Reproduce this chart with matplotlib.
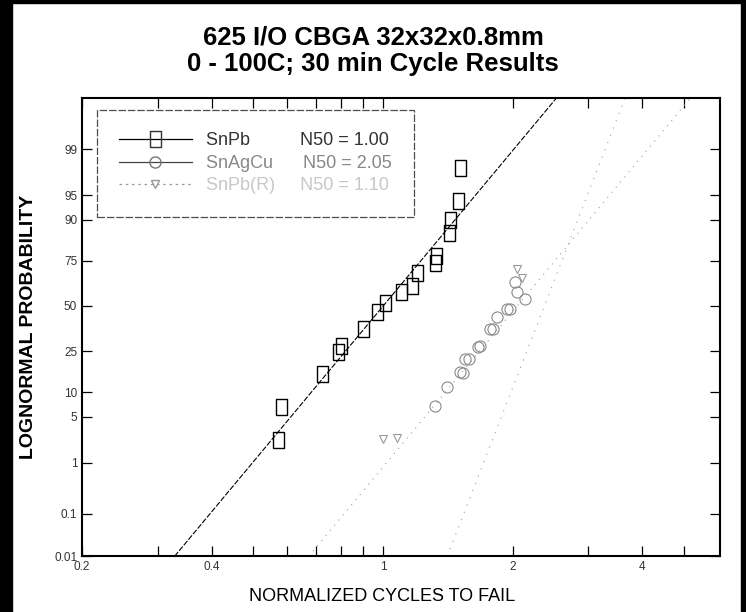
import math
import numpy as np
import matplotlib
matplotlib.use("Agg")
import matplotlib.pyplot as plt
from matplotlib.patches import Rectangle

plt.rcParams['font.family'] = ['Liberation Sans', 'DejaVu Sans']

# data (x = normalized cycles, p = cumulative % failed)
snpb_x = [0.57, 0.58, 0.72, 0.786, 0.80, 0.90, 0.97, 1.01, 1.10, 1.17, 1.20, 1.32, 1.33, 1.42, 1.43, 1.49, 1.51]
snpb_p = [2.3, 6.7, 15.7, 24.8, 27.7, 36.7, 46.5, 52, 58, 61.7, 69, 74, 77, 86, 90, 94, 98]

snagcu_x = [1.32, 1.41, 1.51, 1.53, 1.55, 1.58, 1.66, 1.68, 1.77, 1.80, 1.84, 1.94, 1.97, 2.03, 2.05, 2.14]
snagcu_p = [6.9, 11.5, 16.4, 15.9, 21.5, 21.5, 27, 27.8, 36.7, 36.7, 43.6, 48.4, 48.4, 64, 58.3, 54]

third_x = [1.0, 1.08, 2.05, 2.10]
third_p = [2.4, 2.5, 71, 66]

# fitted lines, end points read where they leave the frame
snpb_fit_x = [0.328, 2.53]
snagcu_fit_x = [0.672, 5.18]
third_fit_x = [1.41, 3.65]
fit_p = [0.01, 99.9]

labels = ["SnPb          N50 = 1.00", "SnAgCu      N50 = 2.05", "SnPb(R)     N50 = 1.10"]

y_ticks = [0.01, 0.1, 1, 5, 10, 25, 50, 75, 90, 95, 99]
y_ticklabels = ["0.01", "0.1", "1", "5", "10", "25", "50", "75", "90", "95", "99"]
x_ticks = [0.2, 0.4, 1, 2, 4]
x_ticklabels = ["0.2", "0.4", "1", "2", "4"]
x_minor = [0.3, 0.5, 0.6, 0.7, 0.8, 0.9, 3, 5]

# normal quantile (Acklam) so the y axis is a probability scale
A = [-3.969683028665376e+01, 2.209460984245205e+02, -2.759285104469687e+02,
     1.383577518672690e+02, -3.066479806614716e+01, 2.506628277459239e+00]
B = [-5.447609879822406e+01, 1.615858368580409e+02, -1.556989798598866e+02,
     6.680131188771972e+01, -1.328068155288572e+01]
C = [-7.784894002430293e-03, -3.223964580411365e-01, -2.400758277161838e+00,
     -2.549732539343734e+00, 4.374664141464968e+00, 2.938163982698783e+00]
D = [7.784695709041462e-03, 3.224671290700398e-01, 2.445134137142996e+00,
     3.754408661907416e+00]


def ppf(pct):
    p = np.clip(np.asarray(pct, dtype=float) / 100.0, 1e-9, 1 - 1e-9)
    out = np.empty_like(p)
    lo = p < 0.02425
    hi = p > 1 - 0.02425
    mid = ~(lo | hi)
    q = p[mid] - 0.5
    r = q * q
    out[mid] = ((((((A[0]*r+A[1])*r+A[2])*r+A[3])*r+A[4])*r+A[5])*q /
                (((((B[0]*r+B[1])*r+B[2])*r+B[3])*r+B[4])*r+1))
    q = np.sqrt(-2 * np.log(p[lo]))
    out[lo] = ((((((C[0]*q+C[1])*q+C[2])*q+C[3])*q+C[4])*q+C[5]) /
               ((((D[0]*q+D[1])*q+D[2])*q+D[3])*q+1))
    q = np.sqrt(-2 * np.log(1 - p[hi]))
    out[hi] = -((((((C[0]*q+C[1])*q+C[2])*q+C[3])*q+C[4])*q+C[5]) /
                ((((D[0]*q+D[1])*q+D[2])*q+D[3])*q+1))
    return out


_erf = np.vectorize(math.erf)


def cdf(z):
    z = np.asarray(z, dtype=float)
    return 50.0 * (1 + _erf(z / math.sqrt(2)))


# tall open box like the scanned squares
box = [(-0.36, -0.5), (0.36, -0.5), (0.36, 0.5), (-0.36, 0.5), (-0.36, -0.5)]

fig = plt.figure(figsize=(7.46, 6.12), dpi=100)
ax = fig.add_axes([0.110, 0.091, 0.855, 0.749])
ax.set_xscale('log')
ax.set_yscale('function', functions=(ppf, cdf))

ax.plot(snpb_fit_x, fit_p, color='black', lw=0.8, ls=(0, (5, 1.5)))
ax.plot(snagcu_fit_x, fit_p, color='#a0a0a0', lw=0.8, ls=(0, (1, 5)))
ax.plot(third_fit_x, fit_p, color='#a0a0a0', lw=0.8, ls=(0, (1, 6)))

ax.plot(snpb_x, snpb_p, ls='none', marker=box, ms=11, mfc='none', mec='black', mew=1.0)
ax.plot(snagcu_x, snagcu_p, ls='none', marker='o', ms=8, mfc='none', mec='#8a8a8a', mew=0.8)
ax.plot(third_x, third_p, ls='none', marker='v', ms=6, mfc='none', mec='#9a9a9a', mew=0.8)

# legend proxies
h1, = ax.plot([], [], color='black', lw=0.9, marker=box, ms=11, mfc='none', mec='#333333')
h2, = ax.plot([], [], color='#444444', lw=0.9, marker='o', ms=8, mfc='none', mec='#777777')
h3, = ax.plot([], [], color='#999999', lw=0.9, ls=(0, (2, 3)), marker='v', ms=6, mfc='none', mec='#999999')
leg = ax.legend([h1, h2, h3], labels, loc='upper left', bbox_to_anchor=(0.023, 0.974),
                fontsize=13, frameon=True, fancybox=False, borderpad=1.25,
                handlelength=4.0, handletextpad=0.8, labelspacing=0.3, borderaxespad=0)
leg.get_frame().set_edgecolor('#222222')
leg.get_frame().set_linewidth(0.9)
leg.get_frame().set_linestyle((0, (6, 1.5)))
for t, c in zip(leg.get_texts(), ['#333333', '#888888', '#c8c8c8']):
    t.set_color(c)

ax.set_xlim(0.2, 6.06)
ax.set_ylim(0.01, 99.9)
ax.set_xticks(x_ticks)
ax.set_xticklabels(x_ticklabels)
ax.set_xticks(x_minor, minor=True)
ax.xaxis.set_minor_formatter(matplotlib.ticker.NullFormatter())
ax.set_yticks(y_ticks)
ax.set_yticklabels(y_ticklabels)
ax.yaxis.set_minor_locator(matplotlib.ticker.NullLocator())
ax.tick_params(axis='both', which='both', direction='in', top=True, right=True,
               labelsize=8.5, width=0.9, labelcolor='#333333')
ax.tick_params(axis='both', which='major', length=7)
ax.tick_params(axis='both', which='minor', length=7)
for s in ax.spines.values():
    s.set_linewidth(1.5)

ax.set_xlabel("NORMALIZED CYCLES TO FAIL", fontsize=13, labelpad=12)
ax.xaxis.set_label_coords(0.47, -0.07)
ax.set_ylabel("LOGNORMAL PROBABILITY", fontsize=14, fontweight='bold', labelpad=12)
fig.text(0.5, 0.917, "625 I/O CBGA 32x32x0.8mm\n0 - 100C; 30 min Cycle Results",
         ha='center', va='center', fontsize=18.5, fontweight='bold', linespacing=1.15)

# black scan border
W, H = 746, 612
for (x0, y0, w, h) in [(0, 0, 12, H), (0, H - 3, W, 3), (W - 5, 0, 5, H)]:
    fig.patches.append(Rectangle((x0 / W, y0 / H), w / W, h / H, transform=fig.transFigure,
                                 color='black', zorder=10))

fig.savefig("out.png", dpi=100)
